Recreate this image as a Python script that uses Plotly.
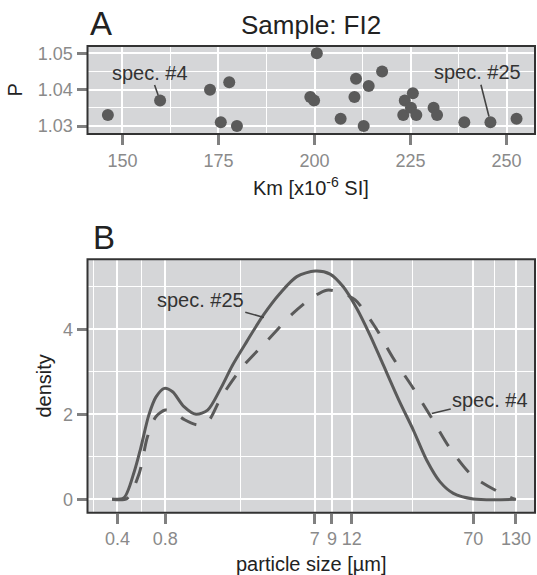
import numpy as np
import plotly.graph_objects as go

# panel A: Km vs P for the specimens of sample FI2
km = [146.2, 159.8, 172.8, 177.8, 175.6, 179.8, 200.6, 198.9, 199.9, 206.8,
      210.8, 210.4, 212.8, 214.1, 217.6, 223.5, 223.1, 225.1, 225.6, 226.5,
      231.0, 231.9, 239.0, 245.8, 252.6]
p_aniso = [1.033, 1.037, 1.040, 1.042, 1.031, 1.030, 1.050, 1.038, 1.037, 1.032,
           1.043, 1.038, 1.030, 1.041, 1.045, 1.037, 1.033, 1.035, 1.039, 1.033,
           1.035, 1.033, 1.031, 1.031, 1.032]
spec4_idx = 1
spec25_idx = 23

# panel B: particle size density curves
size_25 = [0.37, 0.44, 0.51, 0.56, 0.63, 0.70, 0.79, 0.89, 1.05, 1.25,
           1.48, 1.79, 2.12, 2.61, 3.33, 4.24, 5.40, 7.05, 8.75, 10.6,
           12.9, 15.6, 18.5, 24.0, 29.3, 35.6, 43.2, 52.4, 70.0, 130.0]
dens_25 = [0.0, 0.04, 0.65, 1.20, 1.98, 2.41, 2.61, 2.53, 2.18, 2.00,
           2.10, 2.61, 3.15, 3.71, 4.34, 4.85, 5.24, 5.37, 5.30, 5.00,
           4.49, 3.87, 3.25, 2.30, 1.63, 0.92, 0.41, 0.14, 0.01, 0.0]
size_4 = [0.37, 0.46, 0.548, 0.618, 0.70, 0.80, 0.90, 1.05, 1.28, 1.50,
          1.79, 2.45, 3.49, 5.02, 6.71, 8.34, 10.0, 12.6, 16.8, 21.9,
          29.3, 38.3, 49.9, 68.3, 98.0, 128.0]
dens_4 = [0.0, 0.02, 0.61, 1.47, 1.95, 2.10, 2.05, 1.88, 1.75, 1.85,
          2.38, 3.11, 3.72, 4.35, 4.74, 4.92, 4.88, 4.69, 4.06, 3.32,
          2.61, 1.91, 1.20, 0.57, 0.20, 0.0]
size_ticks = [0.4, 0.8, 7, 9, 12, 70, 130]
size_tick_labels = ["0.4", "0.8", "7", "9", "12", "70", "130"]

W, H = 537, 575
FONT = "Liberation Sans, Arial, sans-serif"
PANEL = "#d5d6d8"
GREY_TXT = "#8a8a8a"
DARK = "#5a5a5a"


def px_x(v):
    return v / W


def px_y(v):
    return 1 - v / H


axis_style = dict(
    showgrid=True, gridcolor="white", gridwidth=2,
    zeroline=False, showline=False,
    ticks="outside", ticklen=10, tickwidth=2.5, tickcolor="#808080",
    tickfont=dict(family=FONT, size=18, color=GREY_TXT),
    automargin=False,
)

fig = go.Figure()

fig.add_trace(go.Scatter(
    x=km, y=p_aniso, mode="markers",
    marker=dict(size=12, color=DARK),
    xaxis="x", yaxis="y", showlegend=False,
))
fig.add_trace(go.Scatter(
    x=size_25, y=dens_25, mode="lines",
    line=dict(color=DARK, width=3, shape="spline", smoothing=0.8),
    xaxis="x2", yaxis="y2", showlegend=False,
))
fig.add_trace(go.Scatter(
    x=size_4, y=dens_4, mode="lines",
    line=dict(color=DARK, width=3, shape="spline", smoothing=0.8, dash="17px,16px"),
    xaxis="x2", yaxis="y2", showlegend=False,
))

dom_x = [px_x(87.5), px_x(535)]
fig.update_layout(
    width=W, height=H,
    template="none",
    margin=dict(l=0, r=0, t=0, b=0),
    paper_bgcolor="white",
    plot_bgcolor=PANEL,
    font=dict(family=FONT, color="#222222"),
    xaxis=dict(axis_style, domain=dom_x, anchor="y", range=[140.9, 257.4],
               tickvals=[150, 175, 200, 225, 250],
               minor=dict(tickvals=[162.5, 187.5, 212.5, 237.5], showgrid=True,
                          gridcolor="white", gridwidth=1, ticks="")),
    yaxis=dict(axis_style, domain=[px_y(134), px_y(46)], anchor="x", range=[1.0278, 1.052],
               tickvals=[1.03, 1.04, 1.05], tickformat=".2f",
               minor=dict(tickvals=[1.035, 1.045], showgrid=True,
                          gridcolor="white", gridwidth=1, ticks="")),
    xaxis2=dict(axis_style, domain=dom_x, anchor="y2", type="log", range=[-0.587, 2.234],
                tickvals=size_ticks, ticktext=size_tick_labels,
                minor=dict(tickvals=[0.283, 0.566, 2.37, 29.0, 95.4], showgrid=True,
                           gridcolor="white", gridwidth=1, ticks="")),
    yaxis2=dict(axis_style, domain=[px_y(512.7), px_y(259.3)], anchor="x2", range=[-0.315, 5.647],
                tickvals=[0, 2, 4],
                minor=dict(tickvals=[1, 3, 5], showgrid=True,
                           gridcolor="white", gridwidth=1, ticks="")),
)

# dark panel borders
for xa, ya in (("x", "y"), ("x2", "y2")):
    fig.add_shape(type="rect", xref=f"{xa} domain", yref=f"{ya} domain",
                  x0=0, x1=1, y0=0, y1=1, layer="above",
                  line=dict(color="#333333", width=2))

ann_font = dict(family=FONT, size=20, color="#333333")
annotations = [
    # panel labels and title
    dict(text="A", x=px_x(88), y=px_y(23), xref="paper", yref="paper",
         xanchor="left", yanchor="middle", showarrow=False,
         font=dict(family=FONT, size=33, color="#222222")),
    dict(text="B", x=px_x(91), y=px_y(237), xref="paper", yref="paper",
         xanchor="left", yanchor="middle", showarrow=False,
         font=dict(family=FONT, size=33, color="#222222")),
    dict(text="Sample: FI2", x=px_x(311), y=px_y(25), xref="paper", yref="paper",
         xanchor="center", yanchor="middle", showarrow=False,
         font=dict(family=FONT, size=26, color="#222222")),
    # axis titles
    dict(text="Km [x10<sup>-6</sup> SI]", x=px_x(311), y=px_y(186), xref="paper", yref="paper",
         xanchor="center", yanchor="middle", showarrow=False,
         font=dict(family=FONT, size=20, color="#222222")),
    dict(text="P", x=px_x(15), y=px_y(89.5), xref="paper", yref="paper", textangle=-90,
         xanchor="center", yanchor="middle", showarrow=False,
         font=dict(family=FONT, size=20, color="#222222")),
    dict(text="density", x=px_x(43), y=px_y(386.5), xref="paper", yref="paper", textangle=-90,
         xanchor="center", yanchor="middle", showarrow=False,
         font=dict(family=FONT, size=20, color="#222222")),
    dict(text="particle size [µm]", x=px_x(311), y=px_y(564), xref="paper", yref="paper",
         xanchor="center", yanchor="middle", showarrow=False,
         font=dict(family=FONT, size=20, color="#222222")),
    # specimen labels, panel A
    dict(text="spec. #4", x=km[spec4_idx], y=p_aniso[spec4_idx], xref="x", yref="y",
         ax=157.2, ay=1.0447, axref="x", ayref="y",
         showarrow=True, arrowhead=0, arrowwidth=1.6, arrowcolor="#444444", standoff=6,
         font=ann_font),
    dict(text="spec. #25", x=km[spec25_idx], y=p_aniso[spec25_idx], xref="x", yref="y",
         ax=242.5, ay=1.0448, axref="x", ayref="y",
         showarrow=True, arrowhead=0, arrowwidth=1.6, arrowcolor="#444444", standoff=6,
         font=ann_font),
    # specimen labels, panel B (log axis -> log10 coordinates)
    dict(text="spec. #25", x=np.log10(3.35), y=4.28, xref="x2", yref="y2",
         ax=np.log10(1.33), ay=4.69, axref="x2", ayref="y2",
         showarrow=True, arrowhead=0, arrowwidth=1.6, arrowcolor="#444444",
         font=ann_font),
    dict(text="spec. #4", x=np.log10(38.3), y=2.02, xref="x2", yref="y2",
         ax=np.log10(89.5), ay=2.34, axref="x2", ayref="y2",
         showarrow=True, arrowhead=0, arrowwidth=1.6, arrowcolor="#444444",
         font=ann_font),
]
fig.update_layout(annotations=annotations)

# the page body has a default 8px margin; drop it so the figure fills the window
fig.write_html("out.html", config={"displayModeBar": False},
               post_script="document.body.style.margin='0px';")
